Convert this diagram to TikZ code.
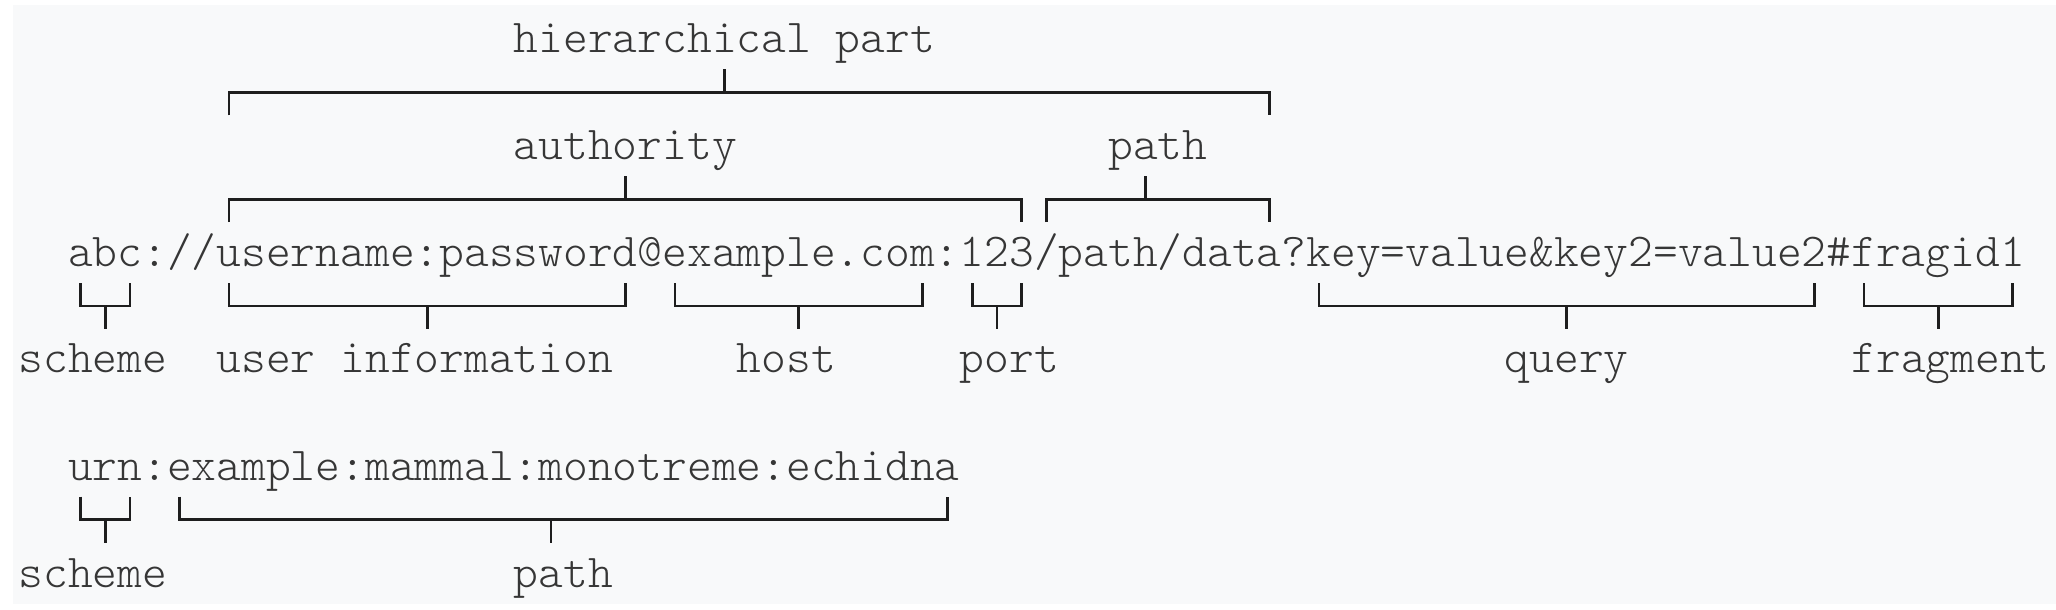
\documentclass[tikz,border=0pt]{standalone}
\usepackage{fontspec}
\newfontfamily\urimono{Latin Modern Mono Light}
\definecolor{bgc}{HTML}{F8F9FA}
\definecolor{txtc}{HTML}{363636}
\definecolor{lnc}{HTML}{1E1E1E}
% column centre / column left edge (px)
\newcommand\cc[1]{{18.5+24.77*(#1+0.5)}}
\newcommand\cl[1]{{18.5+24.77*(#1)}}
% top bracket: from col #1 to col #2, stem at col #3, horizontal at y=#4
\newcommand\TopB[4]{%
  \draw[brk] (\cc{#1},#4+23) -- (\cc{#1},#4) -- (\cc{#2},#4) -- (\cc{#2},#4+23);
  \draw[brk] (\cc{#3},#4) -- (\cc{#3},#4-23);}
% bottom bracket
\newcommand\BotB[4]{%
  \draw[brk] (\cc{#1},#4-23) -- (\cc{#1},#4) -- (\cc{#2},#4) -- (\cc{#2},#4-23);
  \draw[brk] (\cc{#3},#4) -- (\cc{#3},#4+23);}
\begin{document}
\begin{tikzpicture}[x=0.5pt,y=-0.5pt,
  lbl/.style={font=\urimono\fontsize{23.59}{28}\selectfont, text=txtc,
              inner sep=0pt, outer sep=0pt, anchor=base west},
  brk/.style={draw=lnc, line width=1.35pt, line join=miter}]
\useasboundingbox (0,0) rectangle (2056,610);
\fill[bgc] (13,5) rectangle (2056,604);

% texts
\node[lbl] (hier)  at (\cl{20},53)    {hierarchical part};
\node[lbl] (auth)  at (\cl{20},159.8) {authority};
\node[lbl] (hpath) at (\cl{44},159.8) {path};
\node[lbl] (uri)   at (\cl{2},266.6)  {abc://username:password@example.com:123/path/data?key=value\&key2=value2\#fragid1};
\node[lbl] (sch1)  at (\cl{0},372.4)  {scheme};
\node[lbl] (uinf)  at (\cl{8},372.4)  {user information};
\node[lbl] (host)  at (\cl{29},372.4) {host};
\node[lbl] (port)  at (\cl{38},372.4) {port};
\node[lbl] (query) at (\cl{60},372.4) {query};
\node[lbl] (frag)  at (\cl{74},372.4) {fragment};
\node[lbl] (urn)   at (\cl{2},480.2)  {urn:example:mammal:monotreme:echidna};
\node[lbl] (sch2)  at (\cl{0},587)    {scheme};
\node[lbl] (upath) at (\cl{20},587)   {path};

% brackets above
\TopB{8}{50}{28}{92.4}
\TopB{8}{40}{24}{199.2}
\TopB{41}{50}{45}{199.2}
% brackets below
\BotB{2}{4}{3}{306}
\BotB{8}{24}{16}{306}
\BotB{26}{36}{31}{306}
\BotB{38}{40}{39}{306}
\BotB{52}{72}{62}{306}
\BotB{74}{80}{77}{306}
\BotB{2}{4}{3}{519.6}
\BotB{6}{37}{21}{519.6}
\end{tikzpicture}
\end{document}
